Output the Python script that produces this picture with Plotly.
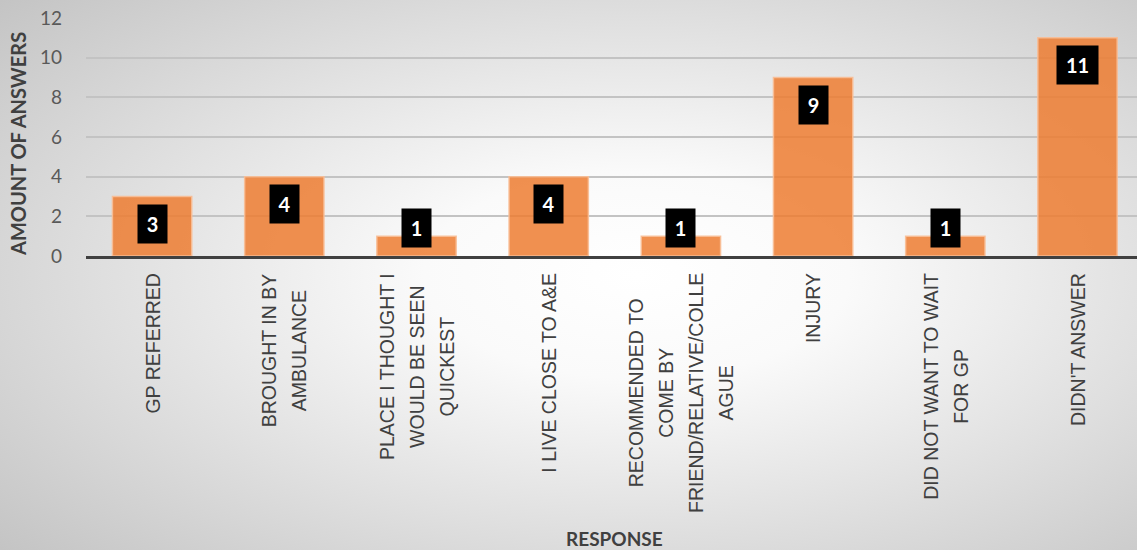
import base64
import plotly.graph_objects as go

categories = [
    "GP REFERRED",
    "BROUGHT IN BY<br>AMBULANCE",
    "PLACE I THOUGHT I<br>WOULD BE SEEN<br>QUICKEST",
    "I LIVE CLOSE TO A&E",
    "RECOMMENDED TO<br>COME BY<br>FRIEND/RELATIVE/COLLE<br>AGUE",
    "INJURY",
    "DID NOT WANT TO WAIT<br>FOR GP",
    "DIDN'T ANSWER",
]
values = [3, 4, 1, 4, 1, 9, 1, 11]
y_ticks = [0, 2, 4, 6, 8, 10, 12]
y_title = "AMOUNT OF ANSWERS"
x_title = "RESPONSE"

W, H = 1137, 550
L, R, T, B = 86, 0, 18, 294
pw, ph = W - L - R, H - T - B

svg = f'''<svg xmlns="http://www.w3.org/2000/svg" width="{W}" height="{H}" viewBox="0 0 {W} {H}" preserveAspectRatio="none">
<defs><radialGradient id="g" cx="0.56" cy="0.5" r="0.75">
<stop offset="0" stop-color="#ffffff"/><stop offset="0.25" stop-color="#fafafa"/><stop offset="1" stop-color="#c4c4c4"/>
</radialGradient></defs><rect width="{W}" height="{H}" fill="url(#g)"/></svg>'''
bg_uri = "data:image/svg+xml;base64," + base64.b64encode(svg.encode()).decode()

xs = list(range(len(categories)))

fig = go.Figure()
fig.add_trace(go.Bar(
    x=xs, y=values,
    marker=dict(color="rgba(237,125,49,0.85)", line=dict(color="rgba(248,190,150,0.9)", width=1.5)),
    width=0.6,
    hoverinfo="skip",
))

annotations = []
px_per_unit = ph / 12.0
for i, v in enumerate(values):
    txt = str(v)
    bw = 15 if len(txt) == 1 else 27
    if v * px_per_unit - 8 - 38 < 8:
        pos = dict(y=0, yanchor="bottom", yshift=8)
    else:
        pos = dict(y=v, yanchor="top", yshift=-7)
    annotations.append(dict(x=i, xref="x", yref="y", text=f"<b>{txt}</b>", showarrow=False,
                            bgcolor="#000000", borderpad=7, width=bw,
                            font=dict(family="Lato", size=20, color="#ffffff"), **pos))

for i, c in enumerate(categories):
    annotations.append(dict(x=i, y=0, xref="x", yref="paper", yanchor="top", xanchor="center",
                            yshift=-15, text=f'<span style="font-size:19.5px">{c}</span>',
                            textangle=-90, align="center", showarrow=False,
                            font=dict(family="Liberation Sans", size=23, color="#404040")))

annotations.append(dict(x=-(L - 18) / pw, y=(256 - 144) / ph, xref="paper", yref="paper",
                        xanchor="center", yanchor="middle", text=f"<b>{y_title}</b>",
                        textangle=-90, showarrow=False,
                        font=dict(family="Lato", size=20, color="#404040")))
annotations.append(dict(x=(614 - L) / pw, y=-(538 - 256) / ph, xref="paper", yref="paper",
                        xanchor="center", yanchor="middle", text=f"<b>{x_title}</b>",
                        showarrow=False, font=dict(family="Lato", size=19, color="#404040")))

fig.update_layout(
    width=W, height=H,
    margin=dict(l=L, r=R, t=T, b=B),
    paper_bgcolor="#d6d6d6",
    plot_bgcolor="rgba(0,0,0,0)",
    showlegend=False,
    annotations=annotations,
    images=[dict(source=bg_uri, xref="paper", yref="paper", x=-L / pw, y=1 + T / ph,
                 sizex=W / pw, sizey=H / ph, xanchor="left", yanchor="top",
                 sizing="stretch", layer="below")],
    xaxis=dict(range=[-0.5, 7.45], showticklabels=False, showgrid=False, zeroline=False,
               showline=True, linecolor="#404040", linewidth=3, ticks=""),
    yaxis=dict(range=[0, 12], tickvals=y_ticks, showgrid=True, gridcolor="#c3c3c3",
               gridwidth=1.5, zeroline=False, showline=False, ticks="",
               ticklabelstandoff=23,
               tickfont=dict(family="Lato", size=19, color="#595959")),
)

fig.write_html("out.html", config={"displayModeBar": False},
               post_script="document.body.style.margin='0';document.body.style.overflow='hidden';")
